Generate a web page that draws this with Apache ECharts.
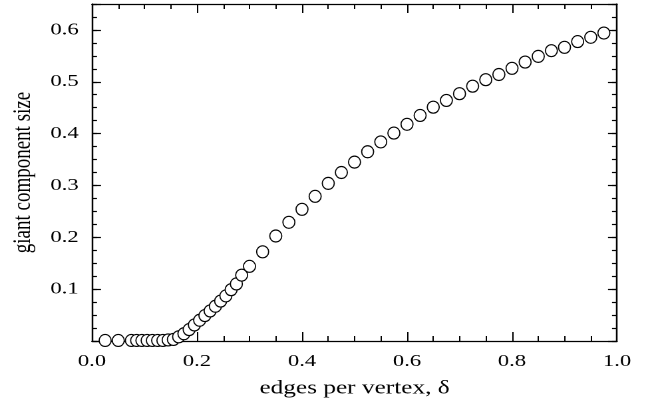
<!DOCTYPE html>
<html>
<head>
<meta charset="utf-8">
<script src="https://cdn.jsdelivr.net/npm/echarts@6/dist/echarts.min.js"></script>
<style>
html,body{margin:0;padding:0;background:#fff;}
#wrap{width:652px;height:407px;overflow:hidden;background:#fff;}
#chart{width:490px;height:407px;transform:scaleX(1.3306);transform-origin:0 0;}
</style>
</head>
<body>
<div id="wrap"><div id="chart"></div></div>
<script>
// ---- data ----
var delta = [0.025,0.05,0.075,0.085,0.095,0.105,0.115,0.125,0.135,0.145,
  0.155,0.165,0.175,0.185,0.195,0.205,0.215,0.225,0.235,0.245,0.255,0.265,0.275,0.285,
  0.3,0.325,0.35,0.375,0.4,0.425,0.45,0.475,0.5,0.525,0.55,0.575,0.6,0.625,0.65,0.675,
  0.7,0.725,0.75,0.775,0.8,0.825,0.85,0.875,0.9,0.925,0.95,0.975];
var giantSize = [0.001,0.001,0.001,0.001,0.001,0.001,0.001,0.001,0.001,0.002,
  0.003,0.008,0.014,0.022,0.031,0.040,0.049,0.058,0.067,0.077,0.087,0.099,0.110,0.127,
  0.144,0.172,0.2025,0.229,0.254,0.279,0.304,0.325,0.345,0.365,0.384,0.401,0.418,0.435,0.451,0.464,
  0.477,0.4915,0.504,0.514,0.526,0.538,0.549,0.560,0.5665,0.5775,0.5858,0.594];
var xTitle = 'edges per vertex, \u03b4';
var yTitle = 'giant component size';

var SX = 1.3306; // horizontal stretch of the whole figure (text in the reference is wide)
var points = delta.map(function(d,i){ return [d, giantSize[i]]; });
var FONT = '"Liberation Serif","Times New Roman",serif';
var lineStyle = {color:'#000', width:1.25};

function xAx(pos, labels){
  return {
    type:'value', min:0, max:1, interval:0.2, position:pos,
    axisLine:{show:true, onZero:false, lineStyle:lineStyle},
    axisTick:{show:true, inside:true, length:9, lineStyle:{color:'#000', width:1.0}},
    minorTick:{show:true, splitNumber:4, length:5, lineStyle:{color:'#000', width:1.0}},
    axisLabel:{show:labels, margin:12, color:'#000', fontFamily:FONT, fontSize:17,
      formatter:function(v){return v.toFixed(1);}},
    splitLine:{show:false}, minorSplitLine:{show:false},
    name: labels ? xTitle : '', nameLocation:'middle', nameGap:38,
    nameTextStyle:{color:'#000', fontFamily:FONT, fontSize:19}
  };
}
function yAx(pos, labels, interval, len, showLine){
  return {
    type:'value', min:0, max:0.65, interval:interval, position:pos,
    axisLine:{show:showLine, onZero:false, lineStyle:lineStyle},
    axisTick:{show:true, inside:true, length:len / SX, lineStyle:{color:'#000', width:1.2}},
    axisLabel:{show:labels, margin:10, color:'#000', fontFamily:FONT, fontSize:17,
      formatter:function(v){ return (v < 0.05 || v > 0.62) ? '' : v.toFixed(1); }},
    splitLine:{show:false},
    name: labels ? yTitle : '', nameLocation:'middle', nameGap:37,
    nameTextStyle:{color:'#000', fontFamily:FONT, fontSize:19}
  };
}

var chart = echarts.init(document.getElementById('chart'), null, {renderer:'canvas', devicePixelRatio:2});
chart.setOption({
  animation:false,
  backgroundColor:'#fff',
  grid:{left:86.5 / SX, right:35 / SX, top:4, bottom:66, containLabel:false},
  xAxis:[xAx('bottom', true), xAx('top', false)],
  yAxis:[
    yAx('left', true, 0.1, 9, true),
    yAx('right', false, 0.1, 9, true),
    yAx('left', false, 0.025, 5, false),
    yAx('right', false, 0.025, 5, false)
  ],
  series:[{
    type:'scatter', xAxisIndex:0, yAxisIndex:0,
    data:points, symbol:'circle', symbolSize:[12 / SX, 12],
    itemStyle:{color:'#fff', borderColor:'#000', borderWidth:1.0, opacity:1},
    z:5
  }]
});
</script>
</body>
</html>
